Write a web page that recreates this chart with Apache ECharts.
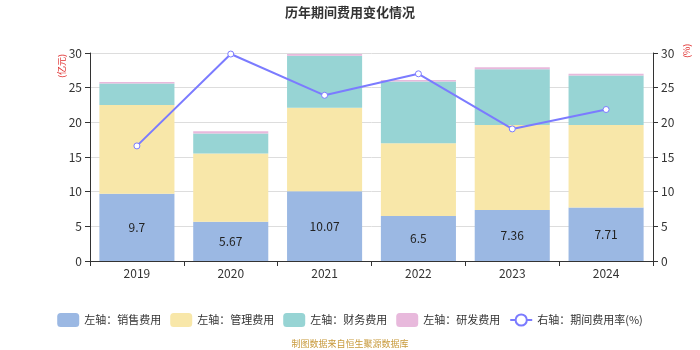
<!DOCTYPE html>
<html><head><meta charset="utf-8">
<script src="https://cdn.jsdelivr.net/npm/echarts@6/dist/echarts.min.js"></script>
<style>html,body{margin:0;padding:0;background:#fff}#c{width:700px;height:350px}</style>
</head><body><div id="c"></div>
<script>
const categories = ['2019','2020','2021','2022','2023','2024'];
const salesExp = [9.7, 5.67, 10.07, 6.5, 7.36, 7.71];
const mgmtExp = [12.8, 9.83, 12.05, 10.5, 12.24, 11.89];
const finExp = [3.1, 2.9, 7.5, 8.9, 8.05, 7.15];
const rdExp = [0.2, 0.3, 0.25, 0.2, 0.3, 0.25];
const expRate = [16.6, 29.85, 23.9, 27.0, 19.05, 21.85];

const chart = echarts.init(document.getElementById('c'));
const font = '"Microsoft YaHei","Noto Sans CJK SC",sans-serif';
function bar(name, data, color, label){
  return {name, type:'bar', stack:'a', data, barWidth:'80%', yAxisIndex:0,
    itemStyle:{color},
    label: label ? {show:true, position:'inside', color:'#222', fontSize:12, fontFamily:font} : {show:false}};
}
chart.setOption({
  animation:false,
  textStyle:{fontFamily:font},
  title:{text:'历年期间费用变化情况', left:'center', top:1, textStyle:{fontSize:13, fontWeight:'bold', color:'#333', fontFamily:font}},
  grid:{left:90, right:47, top:53, bottom:89},
  legend:{bottom:18, left:'center', itemWidth:22, itemHeight:14, itemGap:9, textStyle:{fontSize:11, color:'#333'},
    data:['左轴：销售费用','左轴：管理费用','左轴：财务费用','左轴：研发费用','右轴：期间费用率(%)']},
  graphic:[
    {type:'text', left:'center', bottom:2, style:{text:'制图数据来自恒生聚源数据库', fill:'#c89a3c', fontSize:9, fontFamily:font}},
    {type:'text', x:57, y:78, rotation:Math.PI/2, style:{text:'(亿元)', fill:'#e03030', fontSize:9, fontFamily:font}},
    {type:'text', x:682, y:58, rotation:Math.PI/2, style:{text:'(%)', fill:'#e03030', fontSize:9, fontFamily:font}}
  ],
  xAxis:{type:'category', data:categories, axisLine:{lineStyle:{color:'#333'}}, axisTick:{show:true, lineStyle:{color:'#333'}},
    axisLabel:{color:'#333', fontSize:12, margin:6}},
  yAxis:[
    {type:'value', min:0, max:30, interval:5,
      axisLine:{show:true, lineStyle:{color:'#333'}}, axisTick:{show:true}, axisLabel:{color:'#333', fontSize:12},
      splitLine:{lineStyle:{color:'#ddd'}}},
    {type:'value', min:0, max:30, interval:5,
      axisLine:{show:true, lineStyle:{color:'#333'}}, axisTick:{show:true}, axisLabel:{color:'#333', fontSize:12},
      splitLine:{show:false}}
  ],
  series:[
    bar('左轴：销售费用', salesExp, '#9bb8e3', true),
    bar('左轴：管理费用', mgmtExp, '#f8e7a9', false),
    bar('左轴：财务费用', finExp, '#97d4d4', false),
    bar('左轴：研发费用', rdExp, '#e8b9dc', false),
    {name:'右轴：期间费用率(%)', type:'line', yAxisIndex:1, data:expRate, symbol:'circle', symbolSize:6,
      itemStyle:{color:'#fff', borderColor:'#7b7bff', borderWidth:1},
      lineStyle:{color:'#7b7bff', width:2}}
  ]
});
</script></body></html>
